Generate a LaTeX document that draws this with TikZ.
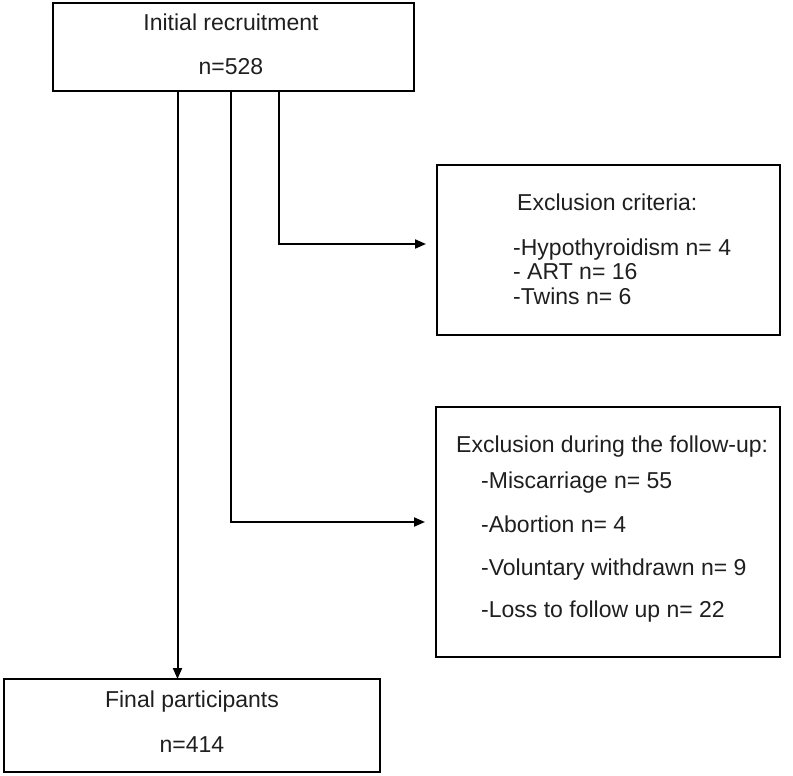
\documentclass[tikz,border=0pt]{standalone}
\usepackage{fontspec}
\setmainfont{Liberation Sans}
\usetikzlibrary{arrows.meta}
\begin{document}
\begin{tikzpicture}[x=1pt,y=-1pt,
  box/.style={draw=black, line width=1.8pt, inner sep=0pt, outer sep=0pt},
  txt/.style={font=\fontsize{23}{28}\selectfont, text=black!88, inner sep=0pt},
  arr/.style={draw=black, line width=2pt, -{Triangle[length=11pt,width=9pt]}},
]
\useasboundingbox (0,0) rectangle (793,776);
% boxes
\node[box, minimum width=361pt, minimum height=88pt] (init) at (233.5,47) {};
\node[box, minimum width=343pt, minimum height=170pt] (excl) at (608.5,250) {};
\node[box, minimum width=344pt, minimum height=250pt] (follow) at (608,532) {};
\node[box, minimum width=376pt, minimum height=93pt] (fin) at (192,725.5) {};
% texts
\node[txt, anchor=base] (t1) at (231,31) {Initial recruitment};
\node[txt, anchor=base] (t2) at (231,75) {n=528};
\node[txt, anchor=base west] (e0) at (517,210) {Exclusion criteria:};
\node[txt, anchor=base west] (e1) at (513,255) {-Hypothyroidism n= 4};
\node[txt, anchor=base west] (e2) at (513,279) {- ART n= 16};
\node[txt, anchor=base west] (e3) at (513,304) {-Twins n= 6};
\node[txt, anchor=base west] (f0) at (456,452) {Exclusion during the follow-up:};
\node[txt, anchor=base west] (f1) at (481,488) {-Miscarriage n= 55};
\node[txt, anchor=base west] (f2) at (481,532) {-Abortion n= 4};
\node[txt, anchor=base west] (f3) at (481,575) {-Voluntary withdrawn n= 9};
\node[txt, anchor=base west] (f4) at (481,617) {-Loss to follow up n= 22};
\node[txt, anchor=base] (g0) at (192,707) {Final participants};
\node[txt, anchor=base] (g1) at (192,752) {n=414};
% connectors
\draw[arr] ([xshift=-56pt]init.south) -- ([xshift=-56pt]init.south |- fin.north);
\draw[arr, shorten >=11pt] ([xshift=-3pt]init.south) |- ([yshift=10pt]follow.west);
\draw[arr, shorten >=11pt] ([xshift=45.5pt]init.south) |- ([yshift=6pt]excl.west);
\end{tikzpicture}
\end{document}
